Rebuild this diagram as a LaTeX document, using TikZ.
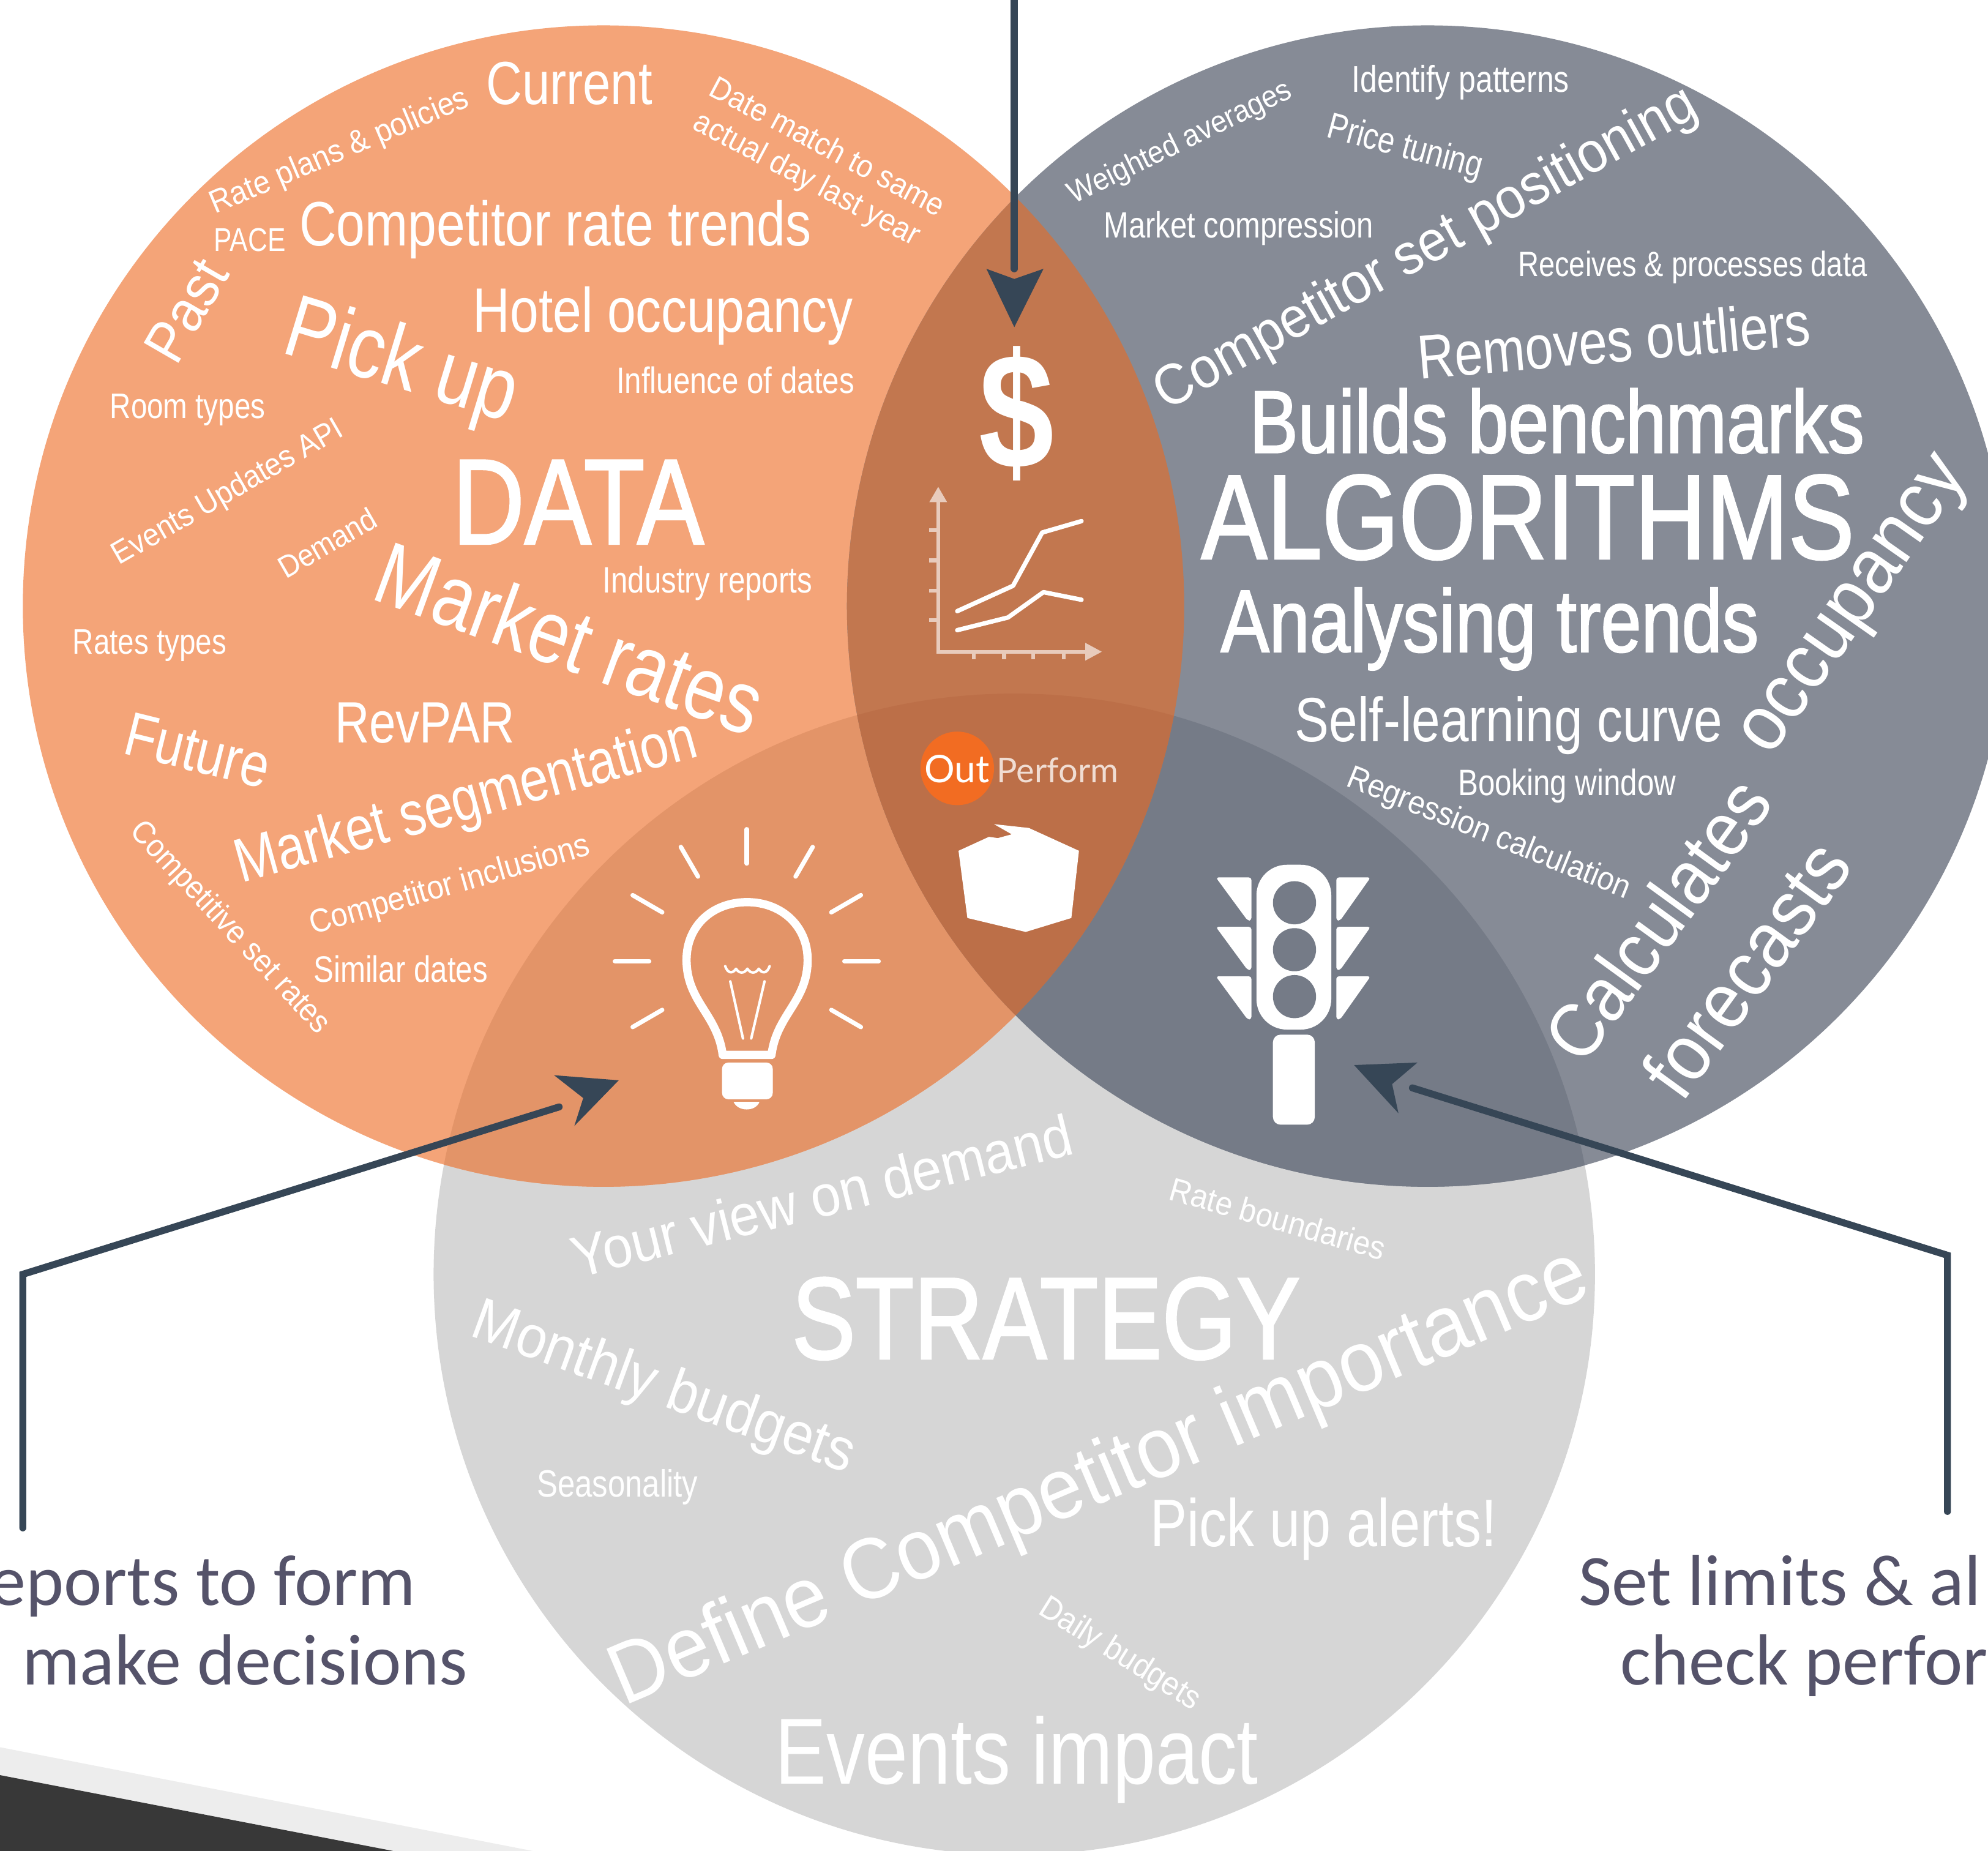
\documentclass[tikz,border=0pt]{standalone}
\usepackage{fontspec}
\setmainfont{Liberation Sans}
\newfontfamily\cond[FakeStretch=0.82]{Liberation Sans}
\newfontfamily\condb[FakeStretch=0.82,FakeBold=1.5]{Liberation Sans}
\newfontfamily\reg[FakeStretch=0.92]{Liberation Sans}
\newfontfamily\capt{Carlito}
\newfontfamily\logofont{Lato}
\newcommand{\sz}[1]{\fontsize{#1}{#1}\selectfont}
\definecolor{orangeCol}{HTML}{F4A478}
\definecolor{slateCol}{HTML}{868B96}
\definecolor{greyCol}{HTML}{D6D6D6}
\definecolor{topCol}{HTML}{C2774F}
\definecolor{leftCol}{HTML}{E39468}
\definecolor{rightCol}{HTML}{757B87}
\definecolor{midCol}{HTML}{BC6F48}
\definecolor{pointerCol}{HTML}{364656}
\definecolor{captCol}{HTML}{55536A}
\tikzset{
  word/.style={text=white, inner sep=0pt, anchor=center},
  pointer/.style={draw=pointerCol, line width=5.5pt, line cap=round, line join=miter},
  tiphead/.style={fill=pointerCol},
  caption/.style={text=captCol, inner sep=0pt, font=\capt\sz{57}},
  icon/.style={draw=white, line cap=round, line join=round},
  faint/.style={draw=white!62!topCol, line width=3pt}
}
\begin{document}
\begin{tikzpicture}[x=1pt, y=-1pt]
\useasboundingbox (0,0) rectangle (1568,1459.8);
\fill[white] (0,0) rectangle (1568,1459.8);
\fill[black!7] (0,1378) -- (420,1459.8) -- (0,1459.8) -- cycle;
\fill[black!78] (0,1400) -- (310,1459.8) -- (0,1459.8) -- cycle;
\fill[greyCol] (800,1005) circle[radius=458pt];
\fill[orangeCol] (476,478) circle[radius=458pt];
\fill[slateCol] (1126,478) circle[radius=458pt];
\begin{scope}
\clip (476,478) circle[radius=458pt];
\fill[leftCol] (800,1005) circle[radius=458pt];
\end{scope}
\begin{scope}
\clip (1126,478) circle[radius=458pt];
\fill[rightCol] (800,1005) circle[radius=458pt];
\end{scope}
\begin{scope}
\clip (476,478) circle[radius=458pt];
\fill[topCol] (1126,478) circle[radius=458pt];
\clip (1126,478) circle[radius=458pt];
\fill[midCol] (800,1005) circle[radius=458pt];
\end{scope}

\node[word, font=\cond\sz{48}] (current) at (449,66) {Current};
\node[word, rotate=23, font=\reg\sz{25.5}] (ratePlans) at (268,120) {Rate plans \& policies};
\node[word, rotate=-28, font=\reg\sz{25}] (dateMatch) at (653,115) {Date match to same};
\node[word, rotate=-28, font=\reg\sz{25}] (actualDay) at (636,142) {actual day last year};
\node[word, font=\cond\sz{26}] (pace) at (197,189) {PACE};
\node[word, font=\cond\sz{49.5}] (rateTrends) at (438,181) {Competitor rate trends};
\node[word, rotate=60, font=\reg\sz{46}] (past) at (147,245) {Past};
\node[word, rotate=-17, font=\cond\sz{70}] (pickUp) at (316,288) {Pick up};
\node[word, font=\cond\sz{49.5}] (hotelOcc) at (523,249) {Hotel occupancy};
\node[word, font=\cond\sz{29}] (influence) at (580,300) {Influence of dates};
\node[word, font=\cond\sz{28}] (roomTypes) at (148,323) {Room types};
\node[word, rotate=30, font=\reg\sz{25}] (eventsApi) at (180,389) {Events Updates API};
\node[word, rotate=30, font=\reg\sz{24.5}] (demand) at (258,428) {Demand};
\node[word, font=\condb\sz{96}] (dataWord) at (456,396) {DATA};
\node[word, rotate=-20, font=\cond\sz{70}] (marketRates) at (450,503) {Market rates};
\node[word, font=\cond\sz{29}] (industry) at (558,460) {Industry reports};
\node[word, font=\cond\sz{28}] (ratesTypes) at (118,509) {Rates types};
\node[word, rotate=-14, font=\cond\sz{49}] (future) at (156,592) {Future};
\node[word, font=\cond\sz{46}] (revpar) at (335,570) {RevPAR};
\node[word, rotate=15.5, font=\cond\sz{49}] (segmentation) at (368,634) {Market segmentation};
\node[word, rotate=16, font=\reg\sz{26}] (inclusions) at (355,699) {Competitor inclusions};
\node[word, rotate=-47, font=\reg\sz{25.3}] (setRates) at (181,732) {Competitive set rates};
\node[word, font=\cond\sz{29}] (similar) at (316,764) {Similar dates};

\node[word, rotate=26, font=\reg\sz{24.4}] (weighted) at (931,113) {Weighted averages};
\node[word, font=\cond\sz{29.4}] (patterns) at (1152,65) {Identify patterns};
\node[word, rotate=-15, font=\cond\sz{29}] (priceTuning) at (1108,117) {Price tuning};
\node[word, font=\cond\sz{28.8}] (compression) at (977,180) {Market compression};
\node[word, rotate=29, font=\reg\sz{45.3}] (setPos) at (1125,197) {Competitor set positioning};
\node[word, font=\cond\sz{27.7}] (receives) at (1335,211) {Receives \& processes data};
\node[word, rotate=5, font=\cond\sz{49}] (outliers) at (1273,268) {Removes outliers};
\node[word, font=\condb\sz{70}] (benchmarks) at (1228,332) {Builds benchmarks};
\node[word, font=\condb\sz{95}] (algorithms) at (1205,408) {ALGORITHMS};
\node[word, font=\condb\sz{70}] (analysing) at (1175,496) {Analysing trends};
\node[word, font=\cond\sz{49.3}] (selfLearning) at (1190,572) {Self-learning curve};
\node[word, font=\cond\sz{29}] (booking) at (1236,620) {Booking window};
\node[word, rotate=-22, font=\reg\sz{25.8}] (regression) at (1174,658) {Regression calculation};
\node[word, rotate=55, font=\reg\sz{62}] (occupancy) at (1466,480) {occupancy};
\node[word, rotate=54, font=\reg\sz{60}] (calculates) at (1307,725) {Calculates};
\node[word, rotate=54, font=\reg\sz{62}] (forecasts) at (1377,764) {forecasts};

\node[word, rotate=14, font=\reg\sz{46}] (yourView) at (648,943) {Your view on demand};
\node[word, rotate=-16, font=\reg\sz{26}] (boundaries) at (1008,961) {Rate boundaries};
\node[word, font=\condb\sz{92}] (strategy) at (825,1040) {STRATEGY};
\node[word, rotate=-20, font=\reg\sz{47}] (monthly) at (523,1096) {Monthly budgets};
\node[word, font=\cond\sz{30}] (seasonality) at (487,1173) {Seasonality};
\node[word, rotate=23, font=\reg\sz{68}] (defineComp) at (868,1167) {Define Competitor importance};
\node[word, font=\cond\sz{53}] (alerts) at (1044,1206) {Pick up alerts!};
\node[word, rotate=-32, font=\reg\sz{26}] (dailyBudgets) at (883,1305) {Daily budgets};
\node[word, font=\cond\sz{74}] (eventsImpact) at (802,1388) {Events impact};

\node[caption, anchor=base east] (reportsLine) at (328,1266) {eports to form};
\node[caption, anchor=base east] (decideLine) at (369,1329) {make decisions};
\node[caption, anchor=base west] (limitsLine) at (1245,1266) {Set limits \& al};
\node[caption, anchor=base west] (checkLine) at (1278,1329) {check perfor};

\coordinate (topStart) at (800,0);
\coordinate (topEnd) at (800,212);
\draw[pointer] (topStart) -- (topEnd);
\fill[tiphead] (800,258) -- (778,212) -- (800,220) -- (823,212) -- cycle;
\coordinate (leftStart) at (18,1205);
\coordinate (leftBend) at (18,1005);
\coordinate (leftEnd) at (441,873);
\draw[pointer] (leftStart) -- (leftBend) -- (leftEnd);
\fill[tiphead] (488,852) -- (437,848) -- (460,866) -- (453,888) -- cycle;
\coordinate (rightStart) at (1536,1192);
\coordinate (rightBend) at (1536,990);
\coordinate (rightEnd) at (1114,858);
\draw[pointer] (rightStart) -- (rightBend) -- (rightEnd);
\fill[tiphead] (1068,840) -- (1118,838) -- (1098,855) -- (1103,878) -- cycle;

\node[text=white, inner sep=0pt, font=\cond\bfseries\sz{130}] (dollar) at (802,326) {\$};

\draw[faint] (740,392) -- (740,514) -- (860,514);
\fill[white!62!topCol] (740,384) -- (733,396) -- (747,396) -- cycle;
\fill[white!62!topCol] (869,514) -- (856,507) -- (856,521) -- cycle;
\draw[faint] (733,418) -- (740,418) (733,442) -- (740,442) (733,466) -- (740,466) (733,489) -- (740,489);
\draw[faint] (768,514) -- (768,520) (792,514) -- (792,520) (815,514) -- (815,520) (839,514) -- (839,520);
\draw[icon, line width=3.5pt] (755,482) -- (799,462) -- (822,420) -- (853,411);
\draw[icon, line width=3.5pt] (755,497) -- (795,487) -- (823,467) -- (853,473);

\fill[color={rgb,255:red,242;green,108;blue,34}] (755,606) circle[radius=29pt];
\node[text=white, inner sep=0pt, anchor=base west, font=\logofont\sz{30}] (logoOut) at (729,617) {Out};
\node[text=white!75!topCol, inner sep=0pt, anchor=base west, font=\logofont\sz{27}] (logoPerf) at (786,617) {Perform};

\fill[white] (756,671) -- (780,660) -- (787,661) -- (798,658) -- (784,650) -- (811.5,653) -- (851,671) -- (845,724) -- (809,735) -- (763,724) -- cycle;

\fill[white, rounded corners=24pt] (991,682) rectangle (1050,812);
\fill[rightCol] (1021,712) circle[radius=17pt];
\fill[rightCol] (1021,749) circle[radius=17pt];
\fill[rightCol] (1021,786) circle[radius=17pt];
\fill[white, rounded corners=2pt] (959,692) -- (987,692) -- (987,726) -- (984,726) -- cycle;
\fill[white, rounded corners=2pt] (959,731) -- (987,731) -- (987,765) -- (984,765) -- cycle;
\fill[white, rounded corners=2pt] (959,770) -- (987,770) -- (987,804) -- (984,804) -- cycle;
\fill[white, rounded corners=2pt] (1081,692) -- (1054,692) -- (1054,726) -- (1057,726) -- cycle;
\fill[white, rounded corners=2pt] (1081,731) -- (1054,731) -- (1054,765) -- (1057,765) -- cycle;
\fill[white, rounded corners=2pt] (1081,770) -- (1054,770) -- (1054,804) -- (1057,804) -- cycle;
\fill[white, rounded corners=6pt] (1004,816) rectangle (1037,887);

\draw[icon, line width=3.5pt] (589,681) -- (589,654);
\draw[icon, line width=3.5pt] (627.5,691.3) -- (641,668);
\draw[icon, line width=3.5pt] (550.5,691.3) -- (537,668);
\draw[icon, line width=3.5pt] (655.7,719.5) -- (679,706);
\draw[icon, line width=3.5pt] (522.3,719.5) -- (499,706);
\draw[icon, line width=3.5pt] (666,758) -- (693,758);
\draw[icon, line width=3.5pt] (512,758) -- (485,758);
\draw[icon, line width=3.5pt] (655.7,796.5) -- (679,810);
\draw[icon, line width=3.5pt] (522.3,796.5) -- (499,810);
\draw[icon, line width=6.5pt] (570,832) .. controls (566,800) and (541.5,790) .. (541.5,757) .. controls (541.5,730) and (562,711.5) .. (589.3,711.5) .. controls (616,711.5) and (637,730) .. (637,757) .. controls (637,790) and (612.5,800) .. (608.5,832) -- cycle;
\draw[icon, line width=2pt] (572,762) .. controls (574,768) and (578,768) .. (580.5,764) .. controls (583,768) and (587,768) .. (589.5,764) .. controls (592,768) and (596,768) .. (598.5,764) .. controls (601,768) and (605,768) .. (607,762);
\draw[icon, line width=2pt] (576,774) -- (586,819);
\draw[icon, line width=2pt] (603,774) -- (592.5,819);
\fill[white, rounded corners=5pt] (569.5,838) -- (609.5,838) -- (609.5,867) -- (569.5,867) -- cycle;
\fill[white] (578.6,869) .. controls (582,877) and (596,877) .. (599,869) -- cycle;
\end{tikzpicture}
\end{document}
